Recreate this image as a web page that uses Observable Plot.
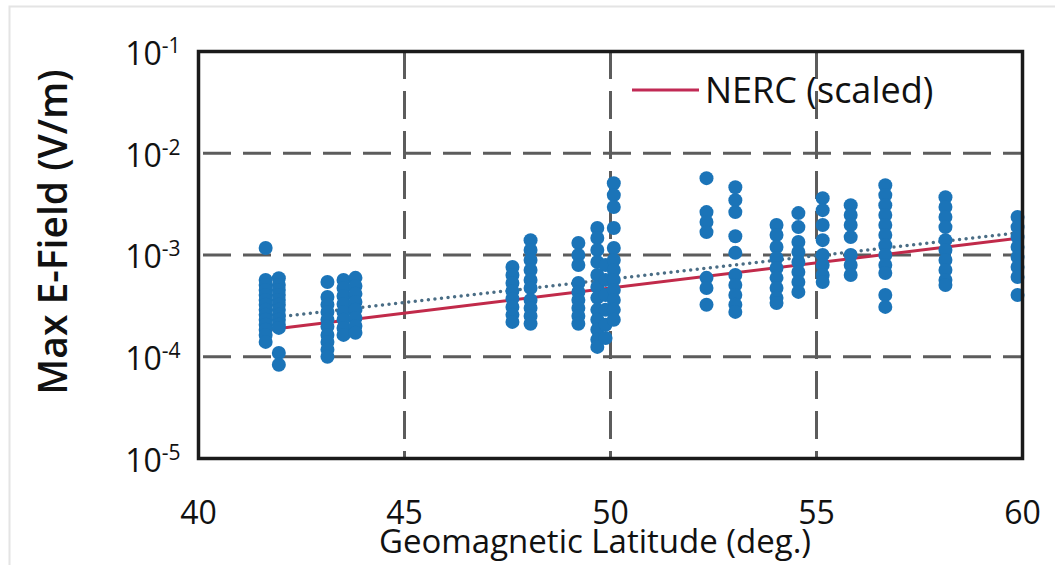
<!DOCTYPE html>
<html>
<head>
<meta charset="utf-8">
<script src="https://cdn.jsdelivr.net/npm/d3@7"></script>
<script src="https://cdn.jsdelivr.net/npm/@observablehq/plot@0.6"></script>
<style>
  html, body { margin: 0; padding: 0; background: #fff; }
  #chart { position: relative; width: 1055px; height: 565px; overflow: hidden; }
</style>
</head>
<body>
<div id="chart"></div>
<script>
// ---- data ----
const xTicks = [40, 45, 50, 55, 60];
const yTicks = [1e-1, 1e-2, 1e-3, 1e-4, 1e-5];
const xGrid = [45, 50, 55];
const yGrid = [1e-2, 1e-3, 1e-4];

const siteLatitudes = [41.63, 41.95, 43.13, 43.52, 43.81, 47.62, 48.06, 49.22, 49.68, 49.88, 50.08,
                       52.33, 53.03, 54.03, 54.56, 55.15, 55.83, 56.67, 58.13, 59.88];
const siteMaxE = [
  [1.17e-3, 5.69e-4, 5.08e-4, 4.54e-4, 4.05e-4, 3.62e-4, 3.24e-4, 2.89e-4, 2.58e-4, 2.31e-4, 2.06e-4, 1.84e-4, 1.64e-4, 1.40e-4],
  [5.9e-4, 5.08e-4, 4.54e-4, 4.05e-4, 3.62e-4, 3.24e-4, 2.89e-4, 2.58e-4, 2.31e-4, 2.06e-4, 1.92e-4, 1.09e-4, 8.35e-5],
  [5.43e-4, 3.87e-4, 3.24e-4, 2.76e-4, 2.31e-4, 1.97e-4, 1.64e-4, 1.40e-4, 1.17e-4, 1.0e-4],
  [5.69e-4, 4.74e-4, 3.96e-4, 3.30e-4, 2.76e-4, 2.31e-4, 1.92e-4, 1.64e-4],
  [5.96e-4, 4.97e-4, 4.15e-4, 3.46e-4, 2.89e-4, 2.41e-4, 2.01e-4, 1.72e-4],
  [7.62e-4, 6.37e-4, 5.31e-4, 4.44e-4, 3.71e-4, 3.09e-4, 2.58e-4, 2.20e-4],
  [1.40e-3, 1.12e-3, 8.93e-4, 7.12e-4, 5.69e-4, 4.74e-4, 3.62e-4, 3.02e-4, 2.52e-4, 2.11e-4],
  [1.31e-3, 1.0e-3, 7.98e-4, 5.31e-4, 4.34e-4, 3.62e-4, 3.02e-4, 2.52e-4, 2.11e-4],
  [1.84e-3, 1.47e-3, 1.12e-3, 8.53e-4, 6.37e-4, 4.85e-4, 3.79e-4, 2.89e-4, 2.31e-4, 1.84e-4, 1.47e-4, 1.25e-4],
  [7.98e-4, 5.69e-4, 4.05e-4, 2.89e-4, 2.06e-4, 1.53e-4],
  [5.08e-3, 3.88e-3, 2.96e-3, 1.84e-3, 1.17e-3, 8.93e-4, 7.12e-4, 5.69e-4, 4.54e-4, 3.62e-4, 2.89e-4, 2.31e-4],
  [5.69e-3, 2.64e-3, 2.11e-3, 1.68e-3, 5.96e-4, 4.74e-4, 3.24e-4],
  [4.64e-3, 3.46e-3, 2.64e-3, 1.53e-3, 1.05e-3, 6.37e-4, 5.08e-4, 4.05e-4, 3.24e-4, 2.76e-4],
  [1.97e-3, 1.57e-3, 1.20e-3, 9.35e-4, 7.45e-4, 5.96e-4, 4.74e-4, 3.79e-4, 3.38e-4],
  [2.58e-3, 1.88e-3, 1.34e-3, 1.07e-3, 8.53e-4, 6.81e-4, 5.43e-4, 4.34e-4],
  [3.62e-3, 2.76e-3, 1.97e-3, 1.40e-3, 1.0e-3, 7.98e-4, 6.37e-4, 5.43e-4],
  [3.09e-3, 2.47e-3, 1.97e-3, 1.50e-3, 1.0e-3, 7.98e-4, 6.37e-4],
  [4.85e-3, 3.88e-3, 3.09e-3, 2.47e-3, 1.97e-3, 1.57e-3, 1.25e-3, 1.0e-3, 7.98e-4, 6.66e-4, 4.05e-4, 3.09e-4],
  [3.70e-3, 2.96e-3, 2.36e-3, 1.88e-3, 1.40e-3, 1.12e-3, 8.93e-4, 7.12e-4, 5.69e-4, 5.08e-4],
  [2.36e-3, 1.88e-3, 1.50e-3, 1.20e-3, 9.54e-4, 7.62e-4, 6.08e-4, 4.05e-4]
];

// NERC (scaled) reference line and dotted trend line (end points)
const nercLat = [41.6, 60];
const nercE = [1.82e-4, 1.48e-3];
const trendLat = [41.6, 60];
const trendE = [2.38e-4, 1.67e-3];

const xTitle = "Geomagnetic Latitude (deg.)";
const yTitle = "Max E-Field (V/m)";
const legendLabel = "NERC (scaled)";

// ---- tables built from the arrays ----
const points = siteLatitudes.flatMap((lat, i) => siteMaxE[i].map(v => ({lat, v})));
const nerc = nercLat.map((lat, i) => ({lat, v: nercE[i]}));
const trend = trendLat.map((lat, i) => ({lat, v: trendE[i]}));

const FONT = "'Open Sans', 'DejaVu Sans', sans-serif";
const gridStyle = {stroke: "#5c5c5c", strokeOpacity: 1, strokeWidth: 3, strokeDasharray: "28 12"};

const svg = Plot.plot({
  width: 1055,
  height: 565,
  marginLeft: 198,
  marginRight: 33,
  marginTop: 51,
  marginBottom: 107,
  style: {fontFamily: FONT, background: "#fff", color: "#111", overflow: "visible"},
  x: {domain: [40, 60]},
  y: {type: "log", domain: [1e-5, 1e-1]},
  marks: [
    Plot.gridX(xGrid, {...gridStyle, strokeDashoffset: 0}),
    Plot.gridY(yGrid, {...gridStyle, strokeDashoffset: -5}),
    Plot.axisX(xTicks, {tickSize: 0, tickPadding: 43, fontSize: 32, label: null, tickFormat: d => String(d)}),
    Plot.axisY(yTicks, {tickSize: 0, tickPadding: 18, fontSize: 32, label: null, dy: 3,
      tickFormat: d => String(Math.round(Math.log10(d)))}),
    Plot.line(nerc, {x: "lat", y: "v", stroke: "#c12a4a", strokeWidth: 3}),
    Plot.line(trend, {x: "lat", y: "v", stroke: "#4a6d85", strokeWidth: 3.5,
      strokeDasharray: "0 6.6", strokeLinecap: "round"}),
    Plot.dot(points, {x: "lat", y: "v", r: 7, fill: "#1b74b8", stroke: "none"}),
    Plot.frame({stroke: "#1a1a1a", strokeWidth: 3.5})
  ]
});

const root = d3.select(svg);

// superscript exponents on the y tick labels
root.selectAll('g[aria-label="y-axis tick label"] text').each(function() {
  const e = this.textContent.replace("−", "-");
  const t = d3.select(this);
  t.attr("font-size", 32).text("10");
  t.append("tspan").attr("dy", -12).attr("font-size", 21).text(e);
});

// axis titles
root.append("text").attr("aria-label", "x-axis title")
  .attr("x", 595).attr("y", 553).attr("text-anchor", "middle")
  .attr("font-family", FONT).attr("font-size", 33).attr("fill", "#111").text(xTitle);
root.append("text").attr("aria-label", "y-axis title")
  .attr("transform", "translate(53,232) rotate(-90)").attr("dy", "0.36em").attr("text-anchor", "middle")
  .attr("font-family", FONT).attr("font-size", 39).attr("font-weight", 600).attr("fill", "#111").text(yTitle);

// legend (inside the plot area, top right)
const lg = root.append("g").attr("aria-label", "legend");
lg.append("line").attr("x1", 632).attr("x2", 699).attr("y1", 90).attr("y2", 90)
  .attr("stroke", "#c12a55").attr("stroke-width", 3);
lg.append("text").attr("x", 705).attr("y", 90).attr("dy", "0.35em").attr("text-anchor", "start")
  .attr("font-size", 36).attr("font-family", FONT).attr("fill", "#111").text(legendLabel);

// faint outer frame of the scanned figure
root.insert("rect", ":first-child").attr("x", 9.5).attr("y", 6.5).attr("width", 1060).attr("height", 600)
  .attr("fill", "none").attr("stroke", "#e4e4e4").attr("stroke-width", 2);

document.getElementById("chart").appendChild(svg);
</script>
</body>
</html>
